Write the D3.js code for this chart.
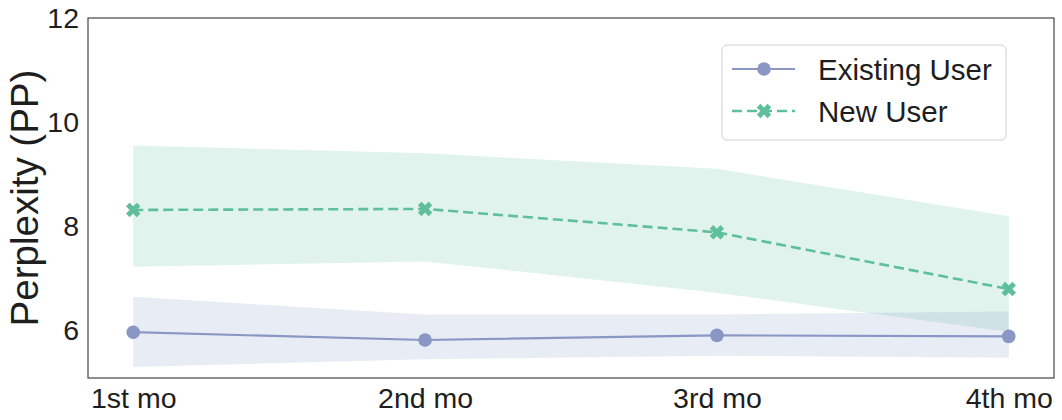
<!DOCTYPE html>
<html><head><meta charset="utf-8">
<script src="https://cdn.jsdelivr.net/npm/d3@7"></script>
<style>body{margin:0;background:#fff}svg{display:block;font-family:"Liberation Sans",Arial,sans-serif}</style>
</head><body><svg id="c" width="1062" height="420"></svg>
<script>
const months = ["1st mo","2nd mo","3rd mo","4th mo"];
const yTicks = [6, 8, 10, 12];
const existingMean = [5.96, 5.81, 5.90, 5.88];
const existingLow  = [5.29, 5.44, 5.51, 5.47];
const existingHigh = [6.64, 6.30, 6.30, 6.36];
const newMean = [8.31, 8.33, 7.88, 6.79];
const newLow  = [7.22, 7.32, 6.72, 5.97];
const newHigh = [9.55, 9.40, 9.10, 8.19];
const seriesNames = ["Existing User", "New User"];

const svg = d3.select("#c");
const L = 88, R = 1054, T = 18, B = 378;
const x = d3.scaleLinear().domain([-0.155, 3.155]).range([L, R]);
const y = d3.scaleLinear().domain([5.08, 12]).range([B, T]);
const cE = "#8a96c4", cN = "#5fbf9c";

const g = svg.append("g");
const area = (lo, hi) => d3.area().x((d,i)=>x(i)).y0((d,i)=>y(lo[i])).y1((d,i)=>y(hi[i]))(months);
g.append("path").attr("d", area(newLow, newHigh)).attr("fill", "#66c2a5").attr("fill-opacity", 0.2);
g.append("path").attr("d", area(existingLow, existingHigh)).attr("fill", "#8da0cb").attr("fill-opacity", 0.2);

const line = d3.line().x((d,i)=>x(i)).y(d=>y(d));
g.append("path").attr("d", line(existingMean)).attr("fill","none").attr("stroke", cE).attr("stroke-width", 2.2);
g.append("path").attr("d", line(newMean)).attr("fill","none").attr("stroke", cN).attr("stroke-width", 2.6).attr("stroke-dasharray","10,5");

g.selectAll("circle.e").data(existingMean).join("circle").attr("class","e")
  .attr("cx",(d,i)=>x(i)).attr("cy",d=>y(d)).attr("r",6.8).attr("fill",cE);
const xSym = d3.symbol(d3.symbolCross, 130)();
g.selectAll("path.n").data(newMean).join("path").attr("class","n").attr("d", xSym)
  .attr("transform",(d,i)=>`translate(${x(i)},${y(d)}) rotate(45)`).attr("fill",cN);

// frame
svg.append("rect").attr("x",L).attr("y",T).attr("width",R-L).attr("height",B-T)
  .attr("fill","none").attr("stroke","#333").attr("stroke-width",1.1);

// axes
const ya = svg.append("g").attr("transform",`translate(${L},0)`)
  .call(d3.axisLeft(y).tickValues(yTicks).tickSize(0).tickPadding(9).tickFormat(d3.format("d")));
ya.select(".domain").remove();
ya.selectAll("text").attr("font-size",28.5).attr("fill","#1e1e1e").attr("font-family","Liberation Sans, Arial, sans-serif");
const xa = svg.append("g").attr("transform",`translate(0,${B})`)
  .call(d3.axisBottom(x).tickValues([0,1,2,3]).tickSize(0).tickPadding(10).tickFormat(i=>months[i]));
xa.select(".domain").remove();
xa.selectAll("text").attr("font-size",28.5).attr("fill","#1e1e1e").attr("font-family","Liberation Sans, Arial, sans-serif");

svg.append("text").attr("transform",`translate(38,${(T+B)/2}) rotate(-90)`)
  .attr("text-anchor","middle").attr("font-size",38.5).attr("fill","#1e1e1e").text("Perplexity (PP)");

// legend
const lg = svg.append("g");
lg.append("rect").attr("x",722).attr("y",45).attr("width",284).attr("height",95).attr("rx",5)
  .attr("fill","#fff").attr("fill-opacity",0.8).attr("stroke","#d0d0d0").attr("stroke-width",1);
const rows = [69, 111];
lg.append("line").attr("x1",732).attr("x2",795).attr("y1",rows[0]).attr("y2",rows[0]).attr("stroke",cE).attr("stroke-width",2.2);
lg.append("circle").attr("cx",764).attr("cy",rows[0]).attr("r",6.8).attr("fill",cE);
lg.append("line").attr("x1",732).attr("x2",795).attr("y1",rows[1]).attr("y2",rows[1]).attr("stroke",cN).attr("stroke-width",2.6).attr("stroke-dasharray","10,5");
lg.append("path").attr("d",xSym).attr("transform",`translate(764,${rows[1]}) rotate(45)`).attr("fill",cN);
seriesNames.forEach((s,i)=>{
  lg.append("text").attr("x",818).attr("y",rows[i]).attr("dy","0.36em").attr("font-size",29.5).attr("fill","#1e1e1e").text(s);
});
</script></body></html>
